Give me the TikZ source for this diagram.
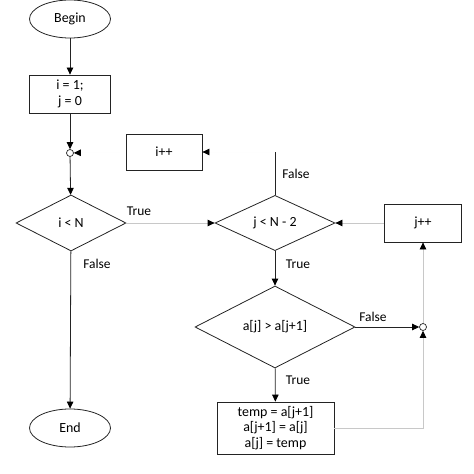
\documentclass[tikz,border=0pt]{standalone}
\usepackage{fontspec}
\setmainfont{Carlito}
\usepackage{xcolor}
\usetikzlibrary{shapes.geometric, arrows.meta}
\definecolor{flowline}{RGB}{35, 35, 35}
\definecolor{faintline}{RGB}{200, 200, 200}
\definecolor{hiddenline}{RGB}{254, 254, 254}

\tikzset{
    base/.style={draw=flowline, line width=0.8pt, inner sep=0pt, align=center,
        font=\fontsize{14}{15.5}\selectfont},
    terminal/.style={base, ellipse, minimum width=81bp, minimum height=38bp},
    procbox/.style={base, rectangle},
    decide/.style={base, diamond},
    joint/.style={circle, draw=flowline, line width=0.7pt, fill=white, minimum size=7bp, inner sep=0pt},
    lbl/.style={font=\fontsize{13.5}{15}\selectfont, inner sep=0pt},
    tip/.style={-{Triangle[length=7bp, width=6.5bp, color=black]}},
    arrowline/.style={tip, draw=flowline, line width=0.8pt},
    faint/.style={tip, draw=faintline, line width=0.8pt},
    hidden/.style={tip, draw=hiddenline, line width=0.8pt}
}

\begin{document}
\begin{tikzpicture}[x=1bp, y=-1bp]
    \useasboundingbox (0,0) rectangle (474,474);

    % left column
    \node[terminal] (begin) at (70,19) {Begin};
    \node[procbox, minimum width=81bp, minimum height=38bp] (init) at (70,94) {i = 1;\\ j = 0};
    \node[joint] (jnA) at (70,153) {};
    \node[procbox, minimum width=76bp, minimum height=36bp] (incI) at (164,152) {i++};
    \node[decide, minimum width=110bp, minimum height=56bp] (condI) at (71,223) {i {\textless} N};
    \node[terminal] (finish) at (70,428) {End};

    % inner loop
    \node[decide, minimum width=120bp, minimum height=55bp] (condJ) at (275,223) {j {\textless} N - 2};
    \node[procbox, minimum width=77bp, minimum height=38bp] (incJ) at (423,223) {j++};
    \node[decide, minimum width=160bp, minimum height=82bp] (cmp) at (275,327) {a[j] {\textgreater} a[j+1]};
    \node[joint] (jnB) at (423,327) {};
    \node[procbox, minimum width=117bp, minimum height=52bp] (swap) at (275.5,428)
        {temp = a[j+1]\\ a[j+1] = a[j]\\ a[j] = temp};
    \coordinate (top) at (275,152);

    % labels
    \node[lbl] (tI) at (139,211) {True};
    \node[lbl] (fI) at (97,264) {False};
    \node[lbl] (fJ) at (296,174) {False};
    \node[lbl] (tJ) at (298,264) {True};
    \node[lbl] (fC) at (373,317) {False};
    \node[lbl] (tC) at (298,380) {True};

    % connectors
    \draw[arrowline] (begin) -- (init);
    \draw[arrowline] (init) -- (jnA);
    \draw[arrowline] (jnA) -- (condI);
    \draw[arrowline] (condI) -- (finish);
    \draw[faint] (condI.east) -- (condJ.west);
    \draw[arrowline] (condJ) -- (cmp);
    \draw[arrowline] (cmp) -- (swap);
    \draw[arrowline] (cmp.east) -- (jnB);
    \draw[faint] (swap.east) -| (jnB);
    \draw[faint] (jnB) -- (incJ);
    \draw[faint] (incJ) -- (condJ.east);
    \draw[draw=flowline, line width=0.8pt] (condJ.north) -- (top);
    \draw[hidden] (top) -- (incI.east);
    \draw[hidden] (incI.west) -- (jnA);
\end{tikzpicture}
\end{document}
